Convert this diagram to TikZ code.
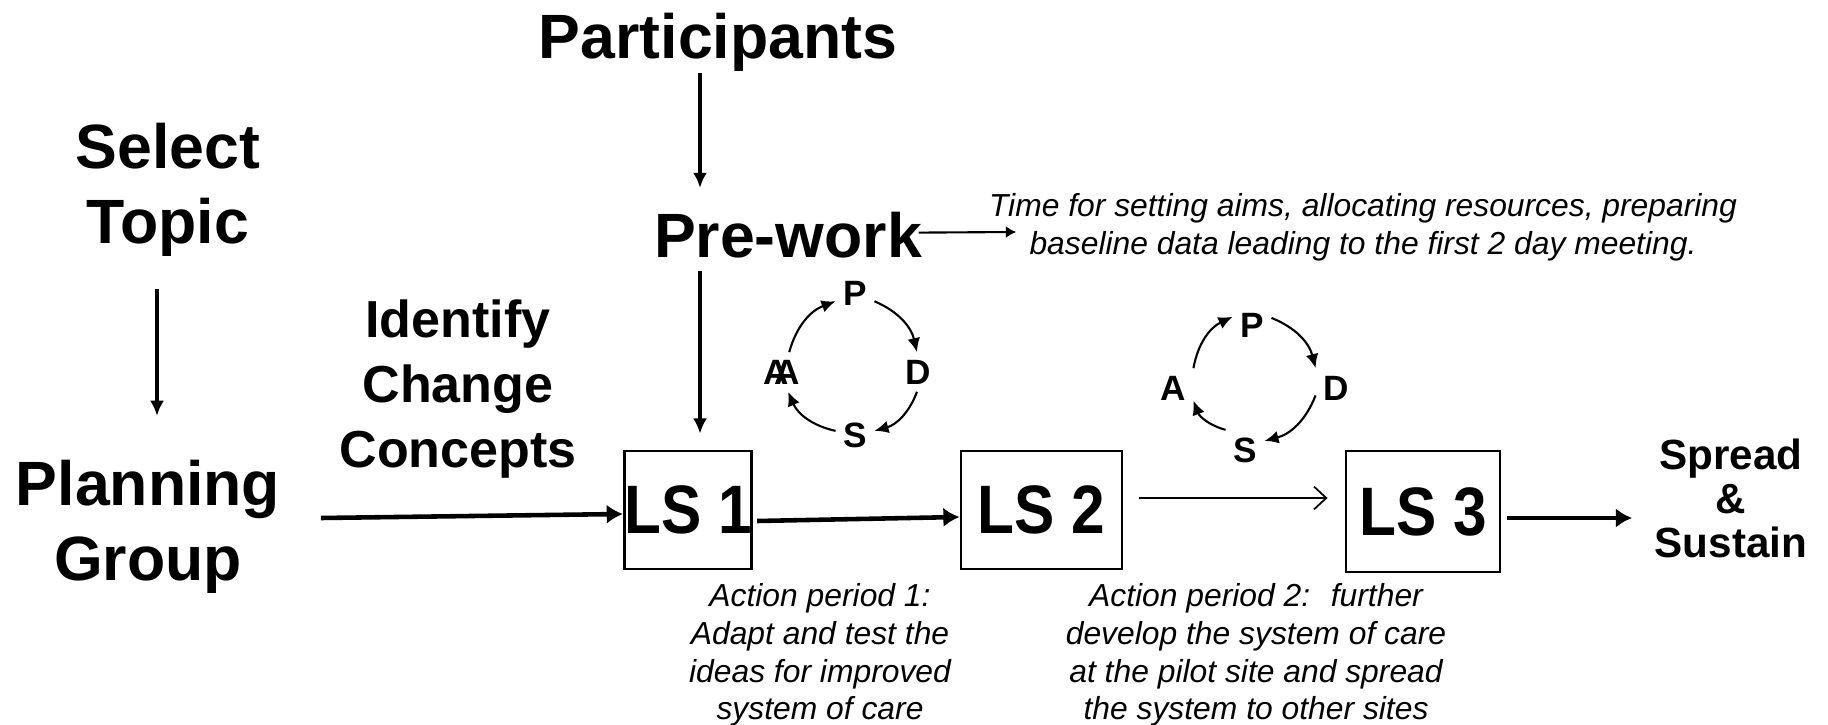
\documentclass[tikz,border=0pt]{standalone}
\usepackage{fontspec}
\setmainfont{Liberation Sans}
\newfontfamily\lsfont[FakeStretch=0.88]{Liberation Sans}
\usepackage{tikz}
\usetikzlibrary{arrows.meta}
\tikzset{
  bigtxt/.style={font=\fontsize{17.8}{21.2}\selectfont\bfseries,align=center,inner sep=0pt},
  midtxt/.style={font=\fontsize{14.8}{18.4}\selectfont\bfseries,align=center,inner sep=0pt},
  smtxt/.style={font=\fontsize{12}{12.5}\selectfont\bfseries,align=center,inner sep=0pt},
  note/.style={font=\fontsize{9.05}{10.7}\selectfont\itshape,align=center,inner sep=0pt},
  lsbox/.style={draw,line width=0.8pt,inner sep=0pt,minimum height=1.18cm,font=\lsfont\fontsize{19.5}{20}\selectfont\bfseries},
  pdsa/.style={font=\fontsize{10}{10}\selectfont\bfseries,inner sep=2pt},
  vline/.style={line width=0.9pt,-{Latex[length=4.3pt,width=4pt]}},
  fatline/.style={line width=1.3pt,-{Latex[length=4.6pt,width=5.5pt]}},
  thinline/.style={line width=0.5pt,-{Straight Barb[length=3.5pt,width=6.5pt]}},
  pointer/.style={line width=0.6pt,-{Latex[length=3pt,width=3.4pt]}},
  cyc/.style={line width=0.6pt,-{Latex[length=4pt,width=3.6pt]}},
}

\begin{document}
\begin{tikzpicture}[x=0.01cm,y=-0.01cm]
\useasboundingbox (0,0) rectangle (1828,725);
% ---- labels ----
\node[bigtxt,anchor=base] (part) at (718,59) {Participants};
\node[bigtxt,anchor=base] (prework) at (788,258) {Pre-work};
\node[note] (aims) at (1363,227) {Time for setting aims, allocating resources, preparing\\baseline data leading to the first 2 day meeting.};
\node[bigtxt] (topic) at (168,190) {Select\\Topic};
\node[bigtxt] (plan) at (148,527) {Planning\\Group};
\node[midtxt] (concepts) at (458,389) {Identify\\Change\\Concepts};
\node[smtxt] (spread) at (1731,498) {Spread\\\&\\Sustain};
% ---- learning sessions ----
\node[lsbox,minimum width=1.24cm] (ls1) at (688,510) {LS 1};
\node[lsbox,minimum width=1.61cm] (ls2) at (1041.5,510) {LS 2};
\node[lsbox,minimum width=1.54cm,minimum height=1.21cm] (ls3) at (1423,511.5) {LS 3};
\node[note] (ap1) at (820,655) {Action period 1:\\Adapt and test the\\ideas for improved\\system of care};
\node[note] (ap2) at (1256,655) {Action period 2:~ further\\develop the system of care\\at the pilot site and spread\\the system to other sites};
% ---- PDSA 1 ----
\node[pdsa] (p1) at (855,293) {P};
\node[pdsa] (d1) at (918,372) {D};
\node[pdsa] (s1) at (855,435) {S};
\node[pdsa] (a1) at (782,372) {\rlap{A}\kern3.1pt A};
\draw[cyc] (a1.70) to[bend left=27] (p1.203);
\draw[cyc] (p1.-23) to[bend left=27] (d1.93);
\draw[cyc] (d1.-93) to[bend left=27] (s1.12);
\draw[cyc] (s1.168) to[bend left=27] (a1.-73);
% ---- PDSA 2 ----
\node[pdsa] (p2) at (1252,325) {P};
\node[pdsa] (d2) at (1336,388) {D};
\node[pdsa] (s2) at (1245,450) {S};
\node[pdsa] (a2) at (1173,388) {A};
\draw[cyc] (a2.north east) to[bend left=27] (p2.157);
\draw[cyc] (p2.20) to[bend left=27] (d2.north west);
\draw[cyc] (d2.200) to[bend left=27] (s2.25);
\draw[cyc] (s2.north west) to[bend left=27] (a2.-32);
% ---- arrows ----
\coordinate (axisA) at (700,0);
\coordinate (axisB) at (157,0);
\draw[vline,shorten >=0.24cm] (part.south -| axisA) -- (prework.north -| axisA);
\draw[vline,shorten <=0.12cm,shorten >=0.16cm] (prework.south -| axisA) -- (ls1.north -| axisA);
\draw[vline,shorten <=0.32cm,shorten >=0.44cm] (topic.south -| axisB) -- (plan.north -| axisB);
\draw[pointer] ([shift={(-4,-3)}]prework.east) -- ([shift={(28,5)}]aims.west);
\draw[fatline] ([shift={(40,-9)}]plan.east) -- ([shift={(0,4)}]ls1.west);
\draw[fatline] ([shift={(4,11)}]ls1.east) -- ([shift={(0,7)}]ls2.west);
\draw[thinline] ([shift={(16,-12)}]ls2.east) -- ([shift={(-17,-13.5)}]ls3.west);
\draw[fatline] ([shift={(6,6.5)}]ls3.east) -- ([shift={(-22,20)}]spread.west);
\end{tikzpicture}
\end{document}
